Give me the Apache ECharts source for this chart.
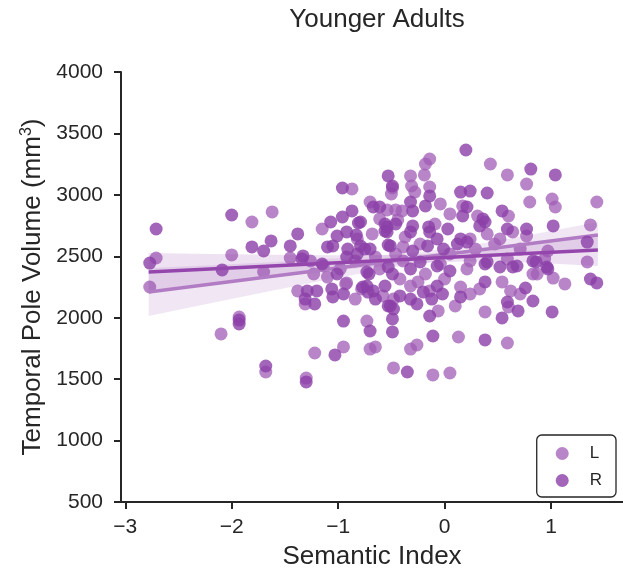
<!DOCTYPE html>
<html>
<head>
<meta charset="utf-8">
<script src="https://cdn.jsdelivr.net/npm/echarts@6/dist/echarts.min.js"></script>
<style>html,body{margin:0;padding:0;background:#fff}#c{width:623px;height:575px}</style>
</head>
<body>
<div id="c"></div>
<script>
// ---- data ----
const seriesNames = ['L', 'R'];
const xTickValues = [-3, -2, -1, 0, 1];
const yTickValues = [500, 1000, 1500, 2000, 2500, 3000, 3500, 4000];

const leftPoints = [
  [-2.77,2250],[-2.71,2486],[-2.10,1868],[-1.93,2006],[-2.00,2511],[-1.81,2779],[-1.62,2861],[-1.70,2372],
  [-1.68,1558],[-1.30,1509],[-1.45,2486],[-1.22,1713],[-0.95,1762],[-1.38,2218],[-1.31,2112],[-1.23,2356],
  [-0.92,2283],[-1.10,2331],[-1.14,2421],[-0.78,2234],[-0.87,3048],[-0.49,3056],[-0.50,3007],[-0.70,2942],
  [-0.54,2877],[-1.15,2722],[-0.61,2804],[-0.46,2877],[-0.44,2796],[-0.14,3292],[-0.18,3251],[-0.19,3162],
  [0.43,3251],[0.59,3162],[0.77,3088],[-0.32,3154],[-0.31,3072],[-0.28,3023],[-0.14,3064],[-0.40,2869],
  [0.17,2910],[0.31,2828],[0.60,2828],[0.80,2942],[1.01,2966],[1.04,2901],[1.43,2942],[-0.09,2763],
  [0.40,2682],[0.64,2698],[0.77,2665],[1.37,2755],[0.97,2543],[1.34,2454],[0.87,2356],[-0.39,2576],
  [-0.39,2462],[0.21,2397],[0.59,2478],[0.24,2462],[0.83,2356],[1.02,2323],[-0.73,1973],[-0.70,1745],
  [-0.65,1762],[-0.32,2258],[-0.25,2291],[-0.06,2055],[0.15,2250],[0.10,2096],[0.13,1843],[0.54,2291],
  [0.62,2218],[0.60,2087],[0.38,2047],[0.59,1794],[-0.32,1745],[-0.26,1778],[-0.48,1591],[-0.11,1534],
  [0.05,1550],[-0.93,2275],[-0.84,2462],[-0.65,2494],[-0.46,2519],[-0.23,2600],[0.05,2519],[0.29,2559],
  [0.47,2600],[0.71,2559],[0.94,2478],[-0.61,2397],[-0.18,2356],[0.00,2315],[0.33,2234],[-0.42,2315],
  [-0.14,2218],[-0.98,2397],[-1.26,2462],[-0.58,2177],[0.24,2193],[0.71,2193],[1.13,2275],[-0.84,2152],
  [-0.04,2437],[-0.82,2641],[-0.37,2657],[-0.68,2682],[0.05,2845],[-0.04,2926],[0.24,2641],[0.52,2641],
  [-0.48,2152]
];

const rightPoints = [
  [-2.77,2445],[-2.71,2722],[-2.09,2389],[-2.00,2836],[-1.81,2576],[-1.70,2543],[-1.63,2625],[-1.93,1981],
  [-1.93,1949],[-1.68,1607],[-1.30,1477],[-1.45,2584],[-1.38,2682],[-1.33,2503],[-1.03,1697],[-0.95,1973],
  [-1.34,2478],[-1.29,2218],[-1.20,2218],[-1.31,2152],[-1.22,2112],[-1.06,2234],[-1.05,2169],[-0.95,2193],
  [-1.01,2356],[-0.73,2258],[-0.72,2209],[-0.96,3056],[-0.53,3154],[-0.67,2901],[-0.61,2901],[-0.87,2869],
  [-0.96,2820],[-1.07,2779],[-0.81,2771],[-0.92,2698],[-0.83,2673],[-1.01,2665],[-1.10,2576],[-1.05,2584],
  [-0.91,2559],[-0.82,2519],[-0.75,2559],[-0.54,2739],[-0.56,2706],[-0.53,2592],[-0.49,3072],[-0.32,2942],
  [-0.30,2869],[-0.18,2910],[-0.14,2991],[0.20,3365],[0.15,3023],[0.24,3031],[0.40,3015],[0.81,3210],
  [1.04,3162],[0.21,2901],[0.17,2828],[0.38,2779],[0.54,2869],[-0.79,2779],[-0.56,2763],[-0.46,2763],
  [-0.54,2698],[-0.30,2747],[-0.32,2698],[-0.15,2739],[-0.14,2698],[0.03,2722],[0.15,2641],[0.21,2616],
  [0.12,2600],[0.36,2804],[0.33,2747],[0.59,2722],[0.77,2722],[1.02,2747],[1.34,2616],[-0.79,2584],
  [-0.70,2559],[-0.30,2543],[-0.16,2584],[-0.07,2641],[-0.01,2559],[0.83,2462],[0.96,2413],[-0.73,2372],
  [-0.53,2413],[-0.23,2454],[-0.07,2421],[0.05,2380],[0.40,2454],[0.68,2421],[-0.71,2356],[-0.49,2356],
  [-0.32,2397],[0.38,2437],[0.52,2413],[0.64,2413],[0.86,2454],[0.97,2397],[1.37,2315],[1.43,2283],
  [-0.77,2250],[-0.67,2218],[-0.65,2152],[-0.56,2258],[-0.51,2096],[-0.48,2071],[-0.49,1990],[-0.49,1884],
  [-0.70,1892],[-0.42,2177],[-0.20,2209],[-0.12,2152],[-0.07,2258],[-0.02,2193],[-0.14,2014],[-0.11,1851],
  [0.15,2169],[0.38,2291],[0.59,2128],[0.69,2055],[0.54,1998],[0.38,1819],[0.76,2242],[0.83,2136],
  [1.01,2047],[-0.35,1558],[-0.32,2152],[-0.26,2112],[-0.53,2096],[-0.51,2584],[-0.92,2494],[-1.15,2437]
];

// regression fit lines (end points)
const leftFit = [[-2.78,2209],[1.44,2673]];
const rightFit = [[-2.78,2372],[1.44,2551]];

// confidence bands
const bandX = [-2.78,-2.2,-1.6,-1.0,-0.4,0.2,0.8,1.44];
const leftBandLower = [2014,2118,2224,2325,2421,2492,2533,2566];
const leftBandUpper = [2404,2428,2454,2485,2521,2582,2673,2780];
const rightBandLower = [2217,2275,2332,2388,2435,2459,2449,2421];
const rightBandUpper = [2527,2519,2512,2508,2511,2539,2599,2681];

// ---- styles ----
const colL = '#a05cb5';
const colR = '#8b3fa8';
const lineColL = '#b27cc4';
const lineColR = '#9446ad';
const ink = '#262626';
const FONT = '"Liberation Sans", Arial, sans-serif';

function band(lower, upper, color) {
  return {
    type: 'custom',
    silent: true,
    data: [[0]],
    renderItem: function (params, api) {
      const pts = [];
      for (let i = 0; i < bandX.length; i++) pts.push(api.coord([bandX[i], upper[i]]));
      for (let i = bandX.length - 1; i >= 0; i--) pts.push(api.coord([bandX[i], lower[i]]));
      return { type: 'polygon', shape: { points: pts }, style: { fill: color, opacity: 0.15 } };
    },
    z: 3
  };
}

const chart = echarts.init(document.getElementById('c'), null, { renderer: 'canvas' });
chart.setOption({
  animation: false,
  backgroundColor: '#fff',
  textStyle: { fontFamily: FONT, color: ink },
  title: {
    text: 'Younger Adults',
    left: 372, top: 2, textAlign: 'center',
    textStyle: { fontFamily: FONT, fontSize: 26, fontWeight: 'normal', color: ink }
  },
  grid: { left: 121, right: 0, top: 72, bottom: 72, containLabel: false },
  legend: {
    data: seriesNames,
    orient: 'vertical',
    right: 7, top: 435,
    padding: [10, 14, 8, 19],
    itemWidth: 13, itemHeight: 13, itemGap: 10,
    icon: 'circle',
    borderColor: ink, borderWidth: 1.3, borderRadius: 5,
    textStyle: { fontFamily: FONT, fontSize: 17, color: ink, lineHeight: 14, padding: [0, 0, 0, 16] }
  },
  xAxis: {
    type: 'value', min: -3.04, max: 1.676,
    name: 'Semantic Index', nameLocation: 'middle', nameGap: 42,
    nameTextStyle: { fontFamily: FONT, fontSize: 26, color: ink },
    axisLine: { show: true, onZero: false, lineStyle: { color: ink, width: 2 } },
    axisTick: { show: true, length: 7, lineStyle: { color: ink, width: 2 }, customValues: xTickValues },
    axisLabel: { fontFamily: FONT, fontSize: 21, color: ink, margin: 15, customValues: xTickValues,
      formatter: v => (v < 0 ? '\u2212' + Math.abs(v) : String(v)) },
    splitLine: { show: false }
  },
  yAxis: {
    type: 'value', min: 500, max: 4000, interval: 500,
    name: 'Temporal Pole Volume (mm{sup|3})', nameLocation: 'middle', nameGap: 73,
    nameTextStyle: { fontFamily: FONT, fontSize: 26, color: ink,
      rich: { sup: { fontFamily: FONT, fontSize: 16, color: ink, padding: [0, 0, 12, 0] } } },
    axisLine: { show: true, onZero: false, lineStyle: { color: ink, width: 2 } },
    axisTick: { show: true, length: 7, lineStyle: { color: ink, width: 2 } },
    axisLabel: { fontFamily: FONT, fontSize: 21, color: ink, margin: 18, formatter: v => String(v) },
    splitLine: { show: false }
  },
  series: [
    { name: 'L', type: 'scatter', data: leftPoints, symbolSize: 13,
      itemStyle: { color: colL, opacity: 0.75 }, z: 2 },
    band(leftBandLower, leftBandUpper, colL),
    { name: 'L-fit', type: 'line', data: leftFit, symbol: 'none', silent: true,
      lineStyle: { color: lineColL, width: 3.5 }, z: 4 },
    { name: 'R', type: 'scatter', data: rightPoints, symbolSize: 13,
      itemStyle: { color: colR, opacity: 0.8 }, z: 5 },
    band(rightBandLower, rightBandUpper, colR),
    { name: 'R-fit', type: 'line', data: rightFit, symbol: 'none', silent: true,
      lineStyle: { color: lineColR, width: 3.5 }, z: 7 }
  ]
});
</script>
</body>
</html>
